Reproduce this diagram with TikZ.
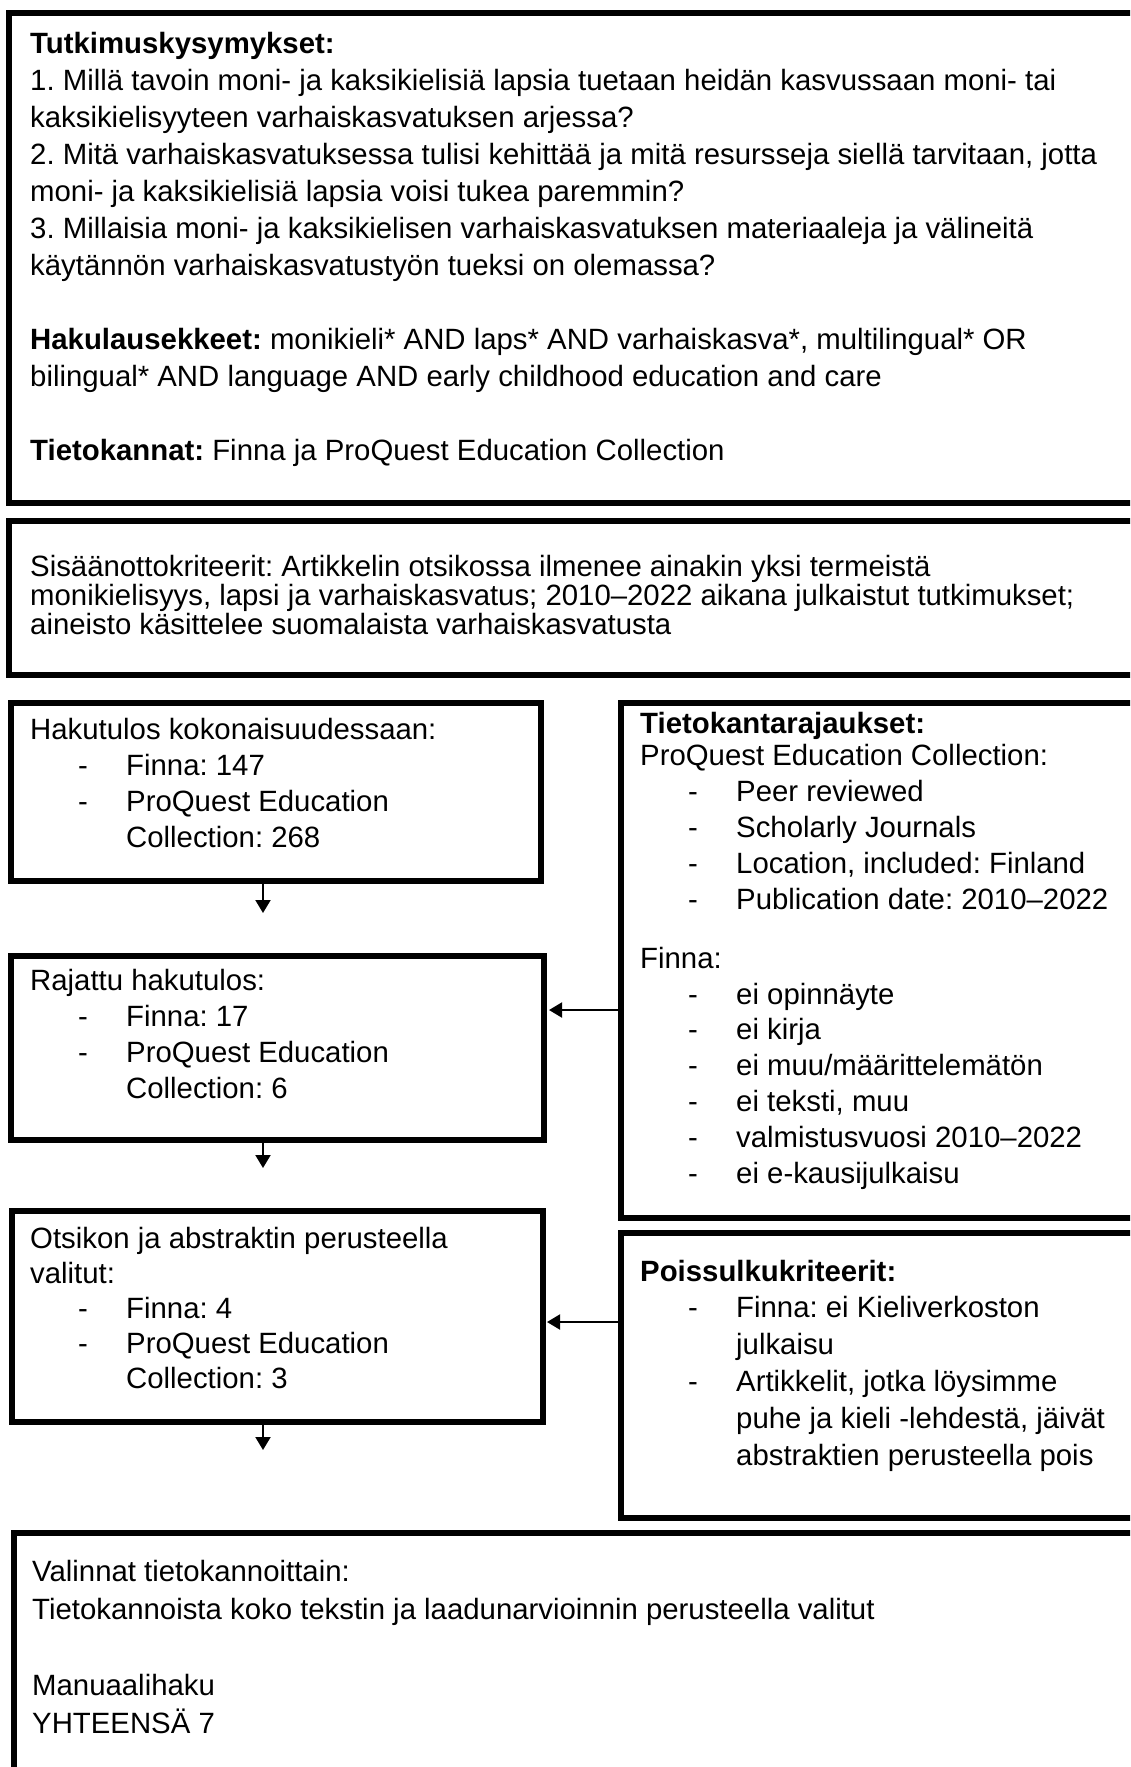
\documentclass[tikz,border=0pt]{standalone}
\usepackage{fontspec}
\setmainfont{Liberation Sans}
\usetikzlibrary{arrows.meta}
\frenchspacing

\newcommand{\fs}[1]{\fontsize{29.35}{#1}\selectfont}
\newcommand{\blk}[1]{\begin{minipage}[t]{1090pt}\raggedright #1\end{minipage}}
\newcommand{\itm}[1]{\hspace*{48pt}\makebox[48pt][l]{-}#1}
\newcommand{\cont}{\hspace*{96pt}}

\begin{document}
\begin{tikzpicture}[x=1pt, y=-1pt, font=\fs{36},
    box/.style={draw, line width=6pt, anchor=north west, inner sep=0pt},
    txt/.style={anchor=base west, inner sep=0pt},
    arr/.style={-{Triangle[length=13pt, width=15pt]}, line width=2pt}]

            \useasboundingbox (0,0) rectangle (1130,1767);
            \clip (0,0) rectangle (1130,1767);

            % ==========================================
            % 1. Laatikot
            % ==========================================
            \node[box, minimum width=1134pt, minimum height=490pt] (kys) at (6,10) {};
            \node[box, minimum width=1134pt, minimum height=154pt] (sis) at (6,518) {};
            \node[box, minimum width=530pt, minimum height=178pt] (haku) at (8,700) {};
            \node[box, minimum width=533pt, minimum height=184pt] (raj) at (8,953) {};
            \node[box, minimum width=531pt, minimum height=211pt] (ots) at (9,1208) {};
            \node[box, minimum width=522pt, minimum height=515pt] (tkr) at (618,700) {};
            \node[box, minimum width=522pt, minimum height=285pt] (pois) at (618,1230) {};
            \node[box, minimum width=1129pt, minimum height=260pt] (val) at (11,1530) {};

            % ==========================================
            % 2. Tekstit
            % ==========================================
            \node[txt, font=\fs{37}] (kys-t) at (30,53) {\blk{%
                \textbf{Tutkimuskysymykset:}\\
                1. Millä tavoin moni- ja kaksikielisiä lapsia tuetaan heidän kasvussaan moni- tai\\
                kaksikielisyyteen varhaiskasvatuksen arjessa?\\
                2. Mitä varhaiskasvatuksessa tulisi kehittää ja mitä resursseja siellä tarvitaan, jotta\\
                moni- ja kaksikielisiä lapsia voisi tukea paremmin?\\
                3. Millaisia moni- ja kaksikielisen varhaiskasvatuksen materiaaleja ja välineitä\\
                käytännön varhaiskasvatustyön tueksi on olemassa?\\[37pt]
                \textbf{Hakulausekkeet:} monikieli* AND laps* AND varhaiskasva*, multilingual* OR\\
                bilingual* AND language AND early childhood education and care\\[37pt]
                \textbf{Tietokannat:} Finna ja ProQuest Education Collection}};

            \node[txt, font=\fs{29}] (sis-t) at (30,576) {\blk{%
                Sisäänottokriteerit: Artikkelin otsikossa ilmenee ainakin yksi termeistä\\
                monikielisyys, lapsi ja varhaiskasvatus; 2010–2022 aikana julkaistut tutkimukset;\\
                aineisto käsittelee suomalaista varhaiskasvatusta}};

            \node[txt] (haku-t) at (30,739) {\blk{%
                Hakutulos kokonaisuudessaan:\\
                \itm{Finna: 147}\\
                \itm{ProQuest Education}\\
                \cont Collection: 268}};

            \node[txt] (raj-t) at (30,990) {\blk{%
                Rajattu hakutulos:\\
                \itm{Finna: 17}\\
                \itm{ProQuest Education}\\
                \cont Collection: 6}};

            \node[txt, font=\fs{35}] (ots-t) at (30,1248) {\blk{%
                Otsikon ja abstraktin perusteella\\
                valitut:\\
                \itm{Finna: 4}\\
                \itm{ProQuest Education}\\
                \cont Collection: 3}};

            \node[txt, font=\fs{35.8}] (tkr-t) at (640,733) {\blk{%
                \textbf{Tietokantarajaukset:}\\[-3pt]
                ProQuest Education Collection:\\
                \itm{Peer reviewed}\\
                \itm{Scholarly Journals}\\
                \itm{Location, included: Finland}\\
                \itm{Publication date: 2010–2022}\\[23.5pt]
                Finna:\\
                \itm{ei opinnäyte}\\
                \itm{ei kirja}\\
                \itm{ei muu/määrittelemätön}\\
                \itm{ei teksti, muu}\\
                \itm{valmistusvuosi 2010–2022}\\
                \itm{ei e-kausijulkaisu}}};

            \node[txt, font=\fs{36.8}] (pois-t) at (640,1281) {\blk{%
                \textbf{Poissulkukriteerit:}\\
                \itm{Finna: ei Kieliverkoston}\\
                \cont julkaisu\\
                \itm{Artikkelit, jotka löysimme}\\
                \cont puhe ja kieli -lehdestä, jäivät\\
                \cont abstraktien perusteella pois}};

            \node[txt, font=\fs{38}] (val-t) at (32,1581) {\blk{%
                Valinnat tietokannoittain:\\
                Tietokannoista koko tekstin ja laadunarvioinnin perusteella valitut\\[38pt]
                Manuaalihaku\\
                YHTEENSÄ 7}};

            % ==========================================
            % 3. Nuolet
            % ==========================================
            \coordinate (h1) at (263,913);
            \coordinate (h2) at (263,1168);
            \coordinate (h3) at (263,1450);
            \coordinate (r1) at (549,1010);
            \coordinate (r2) at (547,1322);

            \draw[arr] (h1 |- haku.south) -- (h1);
            \draw[arr] (h2 |- raj.south) -- (h2);
            \draw[arr] (h3 |- ots.south) -- (h3);
            \draw[arr] (r1 -| tkr.west) -- (r1);
            \draw[arr] (r2 -| pois.west) -- (r2);

        \end{tikzpicture}
\end{document}
